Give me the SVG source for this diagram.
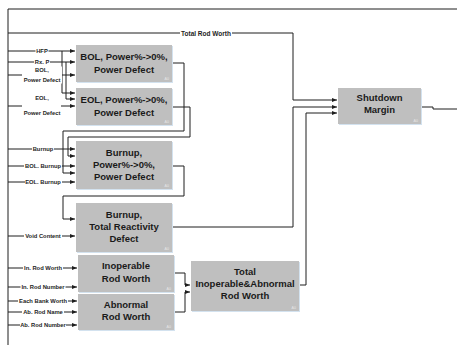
<svg xmlns="http://www.w3.org/2000/svg" width="457" height="345" viewBox="0 0 457 345">
  <style>
    .box { fill: #bfbfbf; }
    .edge { fill: #d3e2ef; }
    .title { font-family: "Liberation Sans", Arial, sans-serif; font-weight: bold; font-size: 9.5px; fill: #1a1a1a; text-anchor: middle; dominant-baseline: central; }
    .tag { font-family: "Liberation Sans", Arial, sans-serif; font-size: 3.6px; fill: #e6e6e6; text-anchor: end; }
    .wire { fill: none; stroke: #1e1e1e; stroke-width: 1; }
    .arrow { marker-end: url(#head); }
    .lbl { font-family: "Liberation Sans", Arial, sans-serif; font-weight: bold; font-size: 5.8px; fill: #1e1e1e; text-anchor: middle; dominant-baseline: central; }
    .lblbg { fill: #ffffff; }
  </style>
  <defs>
    <marker id="head" markerWidth="5" markerHeight="4" refX="5" refY="2" orient="auto" markerUnits="userSpaceOnUse">
      <path d="M0,0 L5,2 L0,4 z" fill="#1e1e1e"/>
    </marker>
  </defs>

  <rect width="457" height="345" fill="#ffffff"/>

  <!-- outer frame / input bus -->
  <g id="frame">
    <path class="wire" d="M8,345 V9 H457"/>
  </g>

  <!-- connectors -->
  <g id="connectors">
    <path class="wire" d="M8,33 H293 V100 H337" marker-end="url(#head)"/>
    <path class="wire arrow" d="M8,51 H75"/>
    <path class="wire arrow" d="M8,62 H75"/>
    <path class="wire arrow" d="M8,75 H75"/>
    <path class="wire arrow" d="M62,51 V93 H75"/>
    <path class="wire arrow" d="M66,62 V99 H75"/>
    <path class="wire arrow" d="M8,106 H75"/>
    <path class="wire arrow" d="M172,63 H184 V131 H63 V173 H75"/>
    <path class="wire arrow" d="M172,107 H190 V137 H68 V156 H75"/>
    <path class="wire arrow" d="M8,149 H75"/>
    <path class="wire arrow" d="M8,166 H75"/>
    <path class="wire arrow" d="M8,182 H75"/>
    <path class="wire arrow" d="M172,166 H184 V196 H63 V219 H75"/>
    <path class="wire arrow" d="M8,236 H75"/>
    <path class="wire arrow" d="M172,227 H293 V107 H337"/>
    <path class="wire arrow" d="M8,268 H77"/>
    <path class="wire arrow" d="M8,287 H77"/>
    <path class="wire arrow" d="M8,301 H77"/>
    <path class="wire arrow" d="M8,312 H77"/>
    <path class="wire arrow" d="M8,325 H77"/>
    <path class="wire arrow" d="M174,273 H185 V285 H190"/>
    <path class="wire arrow" d="M174,312 H185 V292 H190"/>
    <path class="wire arrow" d="M299,285 H306 V113 H337"/>
    <path class="wire" d="M421,107 H433 V109 H457"/>

    <!-- connector labels -->
    <rect class="lblbg" x="180" y="29.5" width="52" height="7"/>
    <text class="lbl" x="206" y="33" style="font-size:6.5px">Total Rod Worth</text>
    <rect class="lblbg" x="35.5" y="47.5" width="13" height="7"/>
    <text class="lbl" x="42" y="51">HFP</text>
    <rect class="lblbg" x="34" y="58.5" width="16" height="7"/>
    <text class="lbl" x="42" y="62">Rx. P</text>
    <rect class="lblbg" x="22" y="66.5" width="40" height="17"/>
    <text class="lbl" x="42" y="70">BOL,</text>
    <text class="lbl" x="42" y="80">Power Defect</text>
    <rect class="lblbg" x="22" y="94.5" width="39" height="22"/>
    <text class="lbl" x="42" y="98">EOL,</text>
    <text class="lbl" x="42" y="113">Power Defect</text>
    <rect class="lblbg" x="32" y="145.5" width="22" height="7"/>
    <text class="lbl" x="43" y="149">Burnup</text>
    <rect class="lblbg" x="24" y="162.5" width="38" height="7"/>
    <text class="lbl" x="43" y="166">BOL. Burnup</text>
    <rect class="lblbg" x="25" y="178.5" width="37" height="7"/>
    <text class="lbl" x="43" y="182">EOL. Burnup</text>
    <rect class="lblbg" x="24" y="232.5" width="38" height="7"/>
    <text class="lbl" x="43" y="236">Void Content</text>
    <rect class="lblbg" x="23" y="264.5" width="40" height="7"/>
    <text class="lbl" x="43" y="268">In. Rod Worth</text>
    <rect class="lblbg" x="20.5" y="283.5" width="45" height="7"/>
    <text class="lbl" x="43" y="287">In. Rod Number</text>
    <rect class="lblbg" x="18" y="297.5" width="50" height="7"/>
    <text class="lbl" x="43" y="301">Each Bank Worth</text>
    <rect class="lblbg" x="22" y="308.5" width="42" height="7"/>
    <text class="lbl" x="43" y="312">Ab. Rod Name</text>
    <rect class="lblbg" x="20" y="321.5" width="46" height="7"/>
    <text class="lbl" x="43" y="325">Ab. Rod Number</text>
  </g>

  <!-- function blocks -->
  <g id="bol-power-defect">
    <rect class="edge" x="77" y="46" width="96" height="37"/>
    <rect class="box" x="76" y="45" width="96" height="37"/>
    <text class="title" x="124" y="56">BOL, Power%-&gt;0%,</text>
    <text class="title" x="124" y="69">Power Defect</text>
    <text class="tag" x="169" y="80">A0</text>
  </g>

  <g id="eol-power-defect">
    <rect class="edge" x="77" y="89" width="96" height="37"/>
    <rect class="box" x="76" y="88" width="96" height="37"/>
    <text class="title" x="124" y="99">EOL, Power%-&gt;0%,</text>
    <text class="title" x="124" y="112">Power Defect</text>
    <text class="tag" x="169" y="123">A0</text>
  </g>

  <g id="burnup-power-defect">
    <rect class="edge" x="77" y="142" width="96" height="48"/>
    <rect class="box" x="76" y="141" width="96" height="48"/>
    <text class="title" x="124" y="152">Burnup,</text>
    <text class="title" x="124" y="164">Power%-&gt;0%,</text>
    <text class="title" x="124" y="176">Power Defect</text>
    <text class="tag" x="169" y="187">A0</text>
  </g>

  <g id="burnup-total-reactivity">
    <rect class="edge" x="77" y="204" width="96" height="49"/>
    <rect class="box" x="76" y="203" width="96" height="49"/>
    <text class="title" x="124" y="214">Burnup,</text>
    <text class="title" x="124" y="226">Total Reactivity</text>
    <text class="title" x="124" y="238">Defect</text>
    <text class="tag" x="169" y="250">A0</text>
  </g>

  <g id="inoperable-rod-worth">
    <rect class="edge" x="79" y="256" width="96" height="37"/>
    <rect class="box" x="78" y="255" width="96" height="37"/>
    <text class="title" x="126" y="265">Inoperable</text>
    <text class="title" x="126" y="278">Rod Worth</text>
    <text class="tag" x="171" y="290">A0</text>
  </g>

  <g id="abnormal-rod-worth">
    <rect class="edge" x="79" y="295" width="96" height="36"/>
    <rect class="box" x="78" y="294" width="96" height="36"/>
    <text class="title" x="126" y="304">Abnormal</text>
    <text class="title" x="126" y="316">Rod Worth</text>
    <text class="tag" x="171" y="328">A0</text>
  </g>

  <g id="total-rod-worth">
    <rect class="edge" x="192" y="262" width="108" height="50"/>
    <rect class="box" x="191" y="261" width="108" height="50"/>
    <text class="title" x="245" y="271">Total</text>
    <text class="title" x="245" y="283">Inoperable&amp;Abnormal</text>
    <text class="title" x="245" y="295">Rod Worth</text>
    <text class="tag" x="296" y="309">A0</text>
  </g>

  <g id="shutdown-margin">
    <rect class="edge" x="339" y="89" width="83" height="36"/>
    <rect class="box" x="338" y="88" width="83" height="36"/>
    <text class="title" x="379.5" y="97">Shutdown</text>
    <text class="title" x="379.5" y="109">Margin</text>
    <text class="tag" x="418" y="122">A0</text>
  </g>
</svg>
